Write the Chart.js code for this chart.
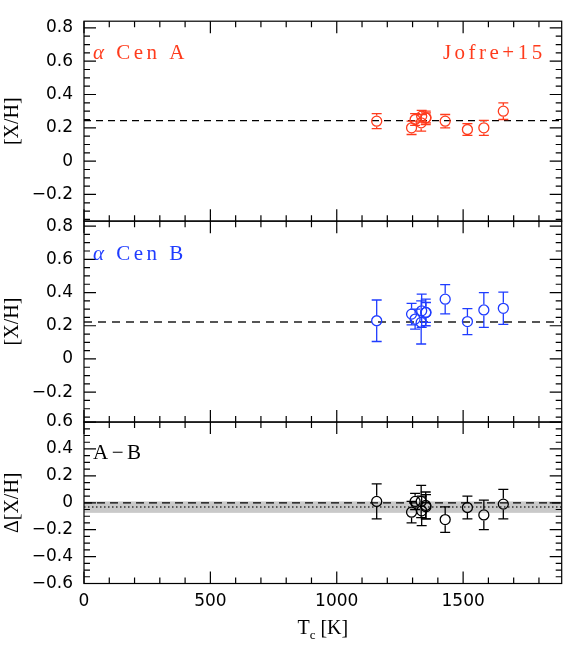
<!DOCTYPE html>
<html>
<head>
<meta charset="utf-8">
<script src="https://cdn.jsdelivr.net/npm/chart.js@4.4.1/dist/chart.umd.min.js"></script>
<style>
  html, body { margin: 0; padding: 0; background: #fff; }
  #wrap { position: relative; width: 568px; height: 657px; }
</style>
</head>
<body>
<div id="wrap"><canvas id="tcChart"></canvas></div>
<script>
// condensation temperature of each element (K), shared by the three panels
const elements = ['Mn', 'Cr', 'Si', 'Fe', 'Mg', 'Co', 'Ni', 'V', 'Ca', 'Ti', 'Sc'];
const tc = [1158, 1296, 1310, 1334, 1336, 1352, 1353, 1429, 1517, 1582, 1659];

// alpha Cen A
const xhA = [0.24, 0.20, 0.25, 0.23, 0.27, 0.26, 0.26, 0.24, 0.19, 0.20, 0.30];
const errA = [0.045, 0.04, 0.035, 0.05, 0.035, 0.04, 0.03, 0.04, 0.035, 0.045, 0.05];
const meanA = 0.243;

// alpha Cen B
const xhB = [0.23, 0.27, 0.24, 0.22, 0.29, 0.28, 0.28, 0.36, 0.225, 0.295, 0.305];
const errB = [0.125, 0.065, 0.06, 0.13, 0.10, 0.08, 0.06, 0.088, 0.078, 0.105, 0.097];
const meanB = 0.222;

// A - B
const dxh = [0.01, -0.07, 0.01, 0.01, -0.06, -0.02, -0.03, -0.125, -0.035, -0.09, -0.01];
const errD = [0.13, 0.08, 0.06, 0.12, 0.11, 0.10, 0.09, 0.095, 0.085, 0.11, 0.11];
const zeroD = 0;
const fitD = -0.032;
const fitDLow = -0.075;
const fitDHigh = 0.01;

const xTicks = [0, 500, 1000, 1500];
const yTicksAB = [-0.2, 0, 0.2, 0.4, 0.6, 0.8];
const yTicksD = [-0.6, -0.4, -0.2, 0, 0.2, 0.4, 0.6];

const XMAX = 1890;
const red = '#ff3b1c';
const blue = '#1f3cff';

const tickFont = { family: 'DejaVu Sans', size: 17 };
const serif = 'Liberation Serif';

const fmt = v => {
    if (Math.abs(v) < 1e-9) return '0';
    return (v < 0 ? '\u2212' : '') + Math.abs(v).toFixed(1);
};

const pts = (ys) => tc.map((t, i) => ({ x: t, y: ys[i] }));
const hline = (v) => [{ x: 0, y: v }, { x: XMAX, y: v }];

function yAxis(min, max, weight, ticks, title) {
    return {
        type: 'linear',
        position: 'left',
        stack: 'panels',
        stackWeight: weight,
        min: min,
        max: max,
        grid: { display: false, drawTicks: false },
        border: { display: false },
        afterBuildTicks: s => { s.ticks = ticks.map(v => ({ value: v })); },
        afterFit: s => { s.width = 84; },
        ticks: {
            autoSkip: false,
            padding: 11,
            color: '#000',
            font: tickFont,
            callback: fmt
        },
        title: {
            display: true,
            text: title,
            color: '#000',
            font: { family: serif, size: 20 },
            padding: { top: 1, bottom: 0 }
        }
    };
}

const scatter = (data, color, yID) => ({
    type: 'scatter',
    data: data,
    yAxisID: yID,
    pointStyle: 'circle',
    pointRadius: 5,
    pointBorderWidth: 1.3,
    borderColor: color,
    backgroundColor: 'rgba(0,0,0,0)',
    order: 1
});

const refLine = (v, yID, color, dash, width) => ({
    type: 'line',
    data: hline(v),
    yAxisID: yID,
    borderColor: color,
    borderDash: dash,
    borderWidth: width,
    pointRadius: 0,
    fill: false,
    order: 2
});

// error bars, grey band, frames with ticks, panel labels
const decorations = {
    id: 'decorations',
    beforeDatasetsDraw(chart) {
        const { ctx, chartArea, scales } = chart;
        const yD = scales.yD;
        const top = yD.getPixelForValue(fitDHigh);
        const bot = yD.getPixelForValue(fitDLow);
        ctx.save();
        ctx.fillStyle = '#c9c9c9';
        ctx.fillRect(chartArea.left, top, chartArea.right - chartArea.left, bot - top);
        ctx.restore();
    },
    afterDatasetsDraw(chart) {
        const { ctx, scales } = chart;
        const bars = [
            [xhA, errA, scales.yA, red],
            [xhB, errB, scales.yB, blue],
            [dxh, errD, scales.yD, '#000']
        ];
        const r = 5.6;
        ctx.save();
        ctx.lineWidth = 1.3;
        bars.forEach(([vals, errs, ys, color]) => {
            ctx.strokeStyle = color;
            vals.forEach((v, i) => {
                const x = scales.x.getPixelForValue(tc[i]);
                const yc = ys.getPixelForValue(v);
                const yt = ys.getPixelForValue(v + errs[i]);
                const yb = ys.getPixelForValue(v - errs[i]);
                ctx.beginPath();
                if (yc - yt > r) { ctx.moveTo(x, yt); ctx.lineTo(x, yc - r); }
                if (yb - yc > r) { ctx.moveTo(x, yc + r); ctx.lineTo(x, yb); }
                ctx.moveTo(x - 5, yt); ctx.lineTo(x + 5, yt);
                ctx.moveTo(x - 5, yb); ctx.lineTo(x + 5, yb);
                ctx.stroke();
            });
        });
        ctx.restore();
    },
    afterDraw(chart) {
        const { ctx, chartArea, scales } = chart;
        const L = chartArea.left, R = chartArea.right;
        ctx.save();
        ctx.strokeStyle = '#000';
        ctx.lineWidth = 1.2;
        ['yA', 'yB', 'yD'].forEach(id => {
            const s = scales[id];
            ctx.strokeRect(L, s.top, R - L, s.bottom - s.top);
            ctx.beginPath();
            for (let t = 0; t <= XMAX; t += 100) {
                const x = scales.x.getPixelForValue(t);
                const len = t % 500 === 0 ? 12 : 6;
                ctx.moveTo(x, s.bottom); ctx.lineTo(x, s.bottom - len);
                ctx.moveTo(x, s.top); ctx.lineTo(x, s.top + len);
            }
            const start = Math.ceil(s.min / 0.05 - 1e-6);
            const end = Math.floor(s.max / 0.05 + 1e-6);
            for (let k = start; k <= end; k++) {
                const y = s.getPixelForValue(k * 0.05);
                const len = k % 4 === 0 ? 12 : 6;
                ctx.moveTo(L, y); ctx.lineTo(L + len, y);
                ctx.moveTo(R, y); ctx.lineTo(R - len, y);
            }
            ctx.stroke();
        });

        // panel labels
        ctx.letterSpacing = '3.5px';
        ctx.textBaseline = 'alphabetic';
        const label = (greek, rest, x, y, color) => {
            ctx.fillStyle = color;
            let cx = x;
            if (greek) {
                ctx.font = 'italic 21px "' + serif + '"';
                ctx.fillText(greek, cx, y);
                cx += ctx.measureText(greek).width;
            }
            ctx.font = '21px "' + serif + '"';
            ctx.fillText(rest, cx, y);
        };
        label('\u03b1', ' Cen A', L + 9, scales.yA.top + 38, red);
        label('\u03b1', ' Cen B', L + 9, scales.yB.top + 39, blue);
        label('', 'A\u2212B', L + 9, scales.yD.top + 37, '#000');
        ctx.textAlign = 'right';
        ctx.fillStyle = red;
        ctx.font = '21px "' + serif + '"';
        ctx.fillText('Jofre+15', R - 16, scales.yA.top + 38);

        // x-axis title with subscript
        ctx.letterSpacing = '0px';
        ctx.textAlign = 'left';
        ctx.fillStyle = '#000';
        const parts = [['T', 20, 0], ['c', 13, 5], [' [K]', 20, 0]];
        let w = 0;
        parts.forEach(([t, sz]) => { ctx.font = sz + 'px "' + serif + '"'; w += ctx.measureText(t).width; });
        let x0 = (L + R) / 2 - w / 2;
        const base = 634;
        parts.forEach(([t, sz, dy]) => {
            ctx.font = sz + 'px "' + serif + '"';
            ctx.fillText(t, x0, base + dy);
            x0 += ctx.measureText(t).width;
        });
        ctx.restore();
    }
};

new Chart(document.getElementById('tcChart'), {
    type: 'scatter',
    data: {
        datasets: [
            refLine(meanA, 'yA', '#000', [7, 5], 1.3),
            refLine(meanB, 'yB', '#555', [8, 6], 2),
            refLine(zeroD, 'yD', '#000', [8, 5], 1.3),
            refLine(fitD, 'yD', '#333', [1.5, 2.5], 1.5),
            scatter(pts(xhA), red, 'yA'),
            scatter(pts(xhB), blue, 'yB'),
            scatter(pts(dxh), '#000', 'yD')
        ]
    },
    options: {
        responsive: true,
        maintainAspectRatio: false,
        animation: false,
        layout: { padding: { top: 21, right: 3, left: 0, bottom: 0 } },
        plugins: {
            legend: { display: false },
            tooltip: { enabled: false }
        },
        scales: {
            x: {
                type: 'linear',
                position: 'bottom',
                min: 0,
                max: XMAX,
                grid: { display: false, drawTicks: false },
                border: { display: false },
                afterBuildTicks: s => { s.ticks = xTicks.map(v => ({ value: v })); },
                afterFit: s => { s.height = 73.5; },
                ticks: {
                    autoSkip: false,
                    maxRotation: 0,
                    padding: 8,
                    color: '#000',
                    font: tickFont,
                    callback: v => String(v)
                }
            },
            // listed bottom panel first: Chart.js stacks the last one on top
            yD: yAxis(-0.6, 0.6, 161.5, yTicksD, '\u0394[X/H]'),
            yB: yAxis(-0.38, 0.83, 201, yTicksAB, '[X/H]'),
            yA: yAxis(-0.36, 0.84, 200, yTicksAB, '[X/H]')
        }
    },
    plugins: [decorations]
});
</script>
</body>
</html>
